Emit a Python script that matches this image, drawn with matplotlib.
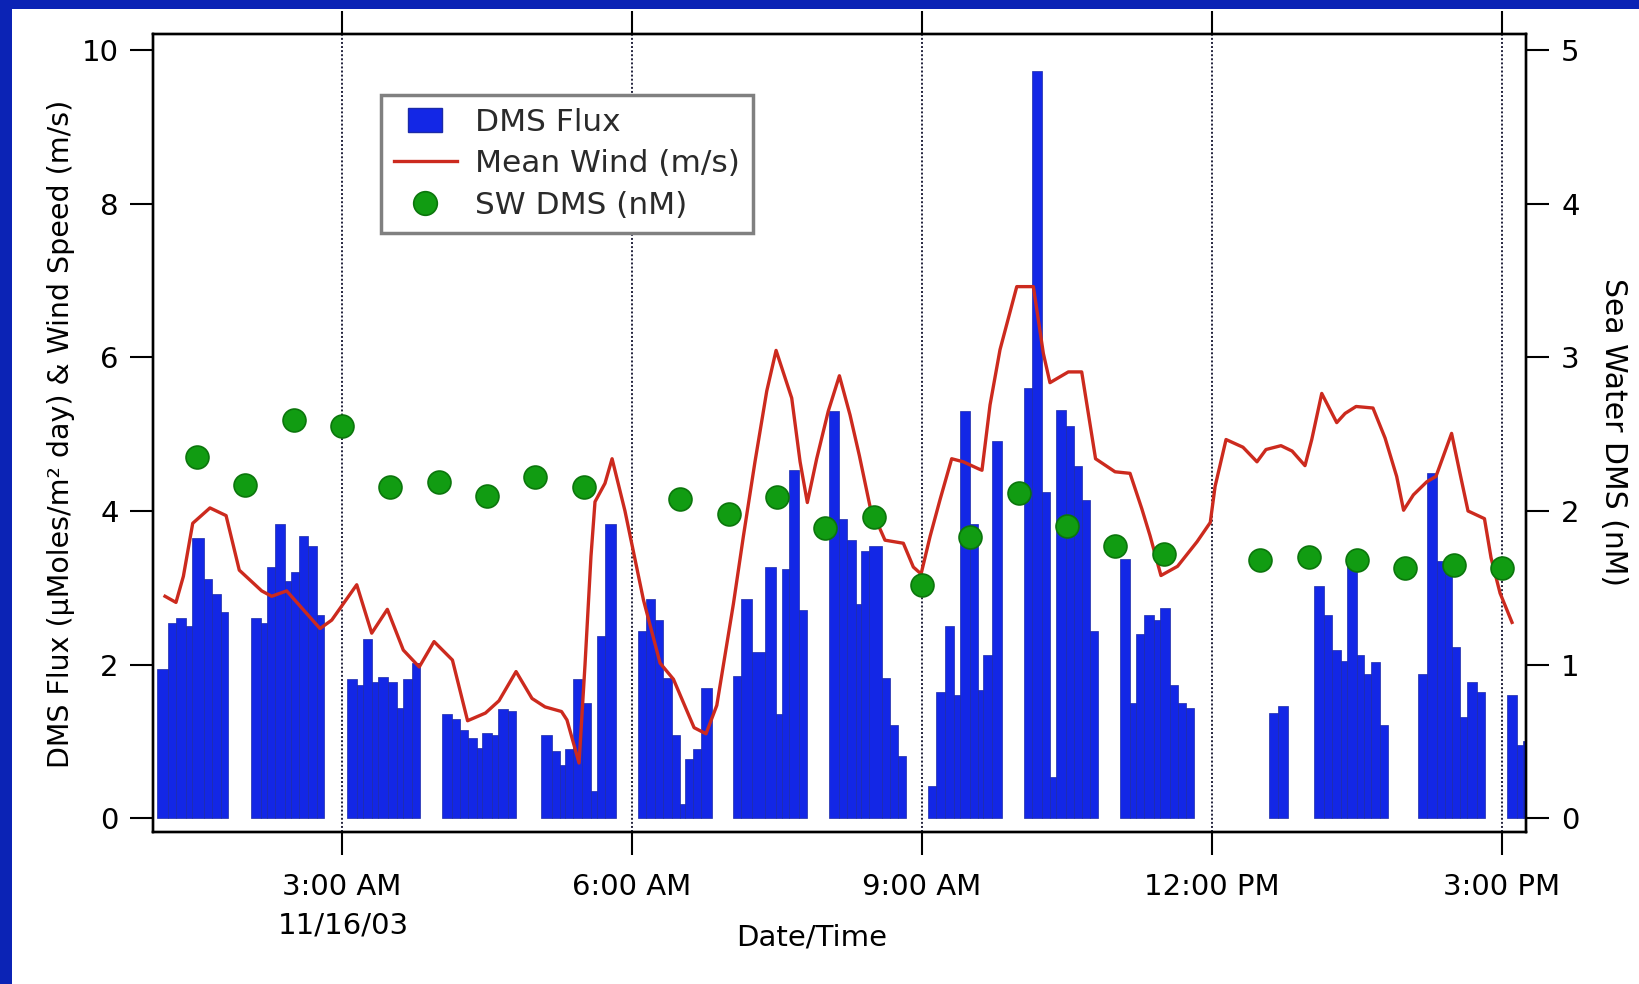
import numpy as np
import matplotlib
matplotlib.use("Agg")
import matplotlib.pyplot as plt
from matplotlib.patches import Rectangle, Patch
from matplotlib.lines import Line2D
from matplotlib.legend_handler import HandlerPatch

# ---------------- data (time = minutes after midnight, 11/16/03) ----------------
# DMS flux: bar edges (minutes) and values for each measurement block
flux_edges = [
    [65.3, 71.8, 76.9, 83.1, 86.7, 94.3, 99.5, 104.7, 109.4],
    [123.3, 129.5, 133.2, 138.4, 144.6, 148.1, 153.3, 159.0, 164.3, 168.8],
    [182.9, 189.1, 192.8, 198.4, 202.5, 208.7, 213.9, 217.6, 223.2, 228.4],
    [242.2, 248.1, 253.2, 258.4, 263.6, 267.1, 272.9, 277.0, 283.2, 288.0],
    [303.5, 310.1, 315.3, 318.4, 323.5, 329.1, 334.5, 338.1, 343.2, 349.9],
    [363.5, 368.5, 374.3, 379.4, 384.6, 389.8, 392.9, 398.0, 402.8, 409.6],
    [422.9, 427.4, 434.3, 442.5, 449.4, 452.9, 457.6, 463.8, 468.8],
    [482.4, 488.6, 493.6, 498.8, 502.3, 507.1, 515.2, 520.1, 525.3, 530.1],
    [543.5, 548.7, 554.3, 559.8, 563.6, 569.8, 574.6, 578.0, 583.2, 589.5],
    [603.3, 608.5, 614.3, 619.4, 623.0, 629.2, 634.3, 639.5, 644.3, 649.4],
    [662.9, 669.1, 672.8, 678.0, 684.0, 687.7, 693.9, 699.1, 703.9, 709.0],
    [755.1, 760.8, 766.9],
    [783.3, 789.5, 794.7, 799.9, 803.6, 809.8, 814.5, 818.5, 824.3, 829.4],
    [847.7, 853.2, 859.6, 864.3, 869.2, 874.2, 878.3, 884.2, 889.3],
    [902.9, 909.1, 913.0, 918.6],
]
flux_values = [
    [1.94, 2.54, 2.61, 2.50, 3.65, 3.12, 2.92, 2.68],
    [2.61, 2.54, 3.27, 3.83, 3.09, 3.20, 3.68, 3.55, 2.64],
    [1.81, 1.74, 2.33, 1.78, 1.84, 1.78, 1.43, 1.81, 2.02],
    [1.36, 1.29, 1.15, 1.04, 0.91, 1.11, 1.08, 1.42, 1.40],
    [1.08, 0.87, 0.70, 0.90, 1.81, 1.50, 0.36, 2.37, 3.83],
    [2.44, 2.85, 2.58, 1.83, 1.08, 0.18, 0.77, 0.90, 1.70],
    [1.85, 2.85, 2.16, 3.27, 1.36, 3.24, 4.53, 2.71],
    [5.30, 3.90, 3.62, 2.79, 3.48, 3.54, 1.82, 1.22, 0.81],
    [0.42, 1.64, 2.50, 1.61, 5.30, 3.83, 1.67, 2.12, 4.91],
    [5.60, 9.73, 4.25, 0.54, 5.32, 5.11, 4.59, 4.14, 2.44],
    [3.37, 1.50, 2.40, 2.64, 2.58, 2.74, 1.74, 1.50, 1.43],
    [1.37, 1.46],
    [3.03, 2.65, 2.19, 2.05, 3.35, 2.12, 1.88, 2.03, 1.22],
    [1.88, 4.49, 3.35, 3.33, 2.23, 1.32, 1.78, 1.64],
    [1.61, 0.95, 1.01],
]

# Mean wind speed (m/s)
wind_time = [70.1, 76.9, 81.5, 87.3, 98.0, 108.0, 116.2, 130.1, 136.3, 145.6,
             166.3, 173.6, 189.1, 198.4, 208.1, 218.0, 227.9, 237.1, 248.5, 257.9,
             269.0, 277.4, 288.0, 297.9, 306.0, 316.2, 319.6, 327.1, 330.8, 334.5,
             337.0, 343.2, 347.6, 355.6, 367.1, 377.4, 385.7, 398.5, 405.9, 412.6,
             422.9, 429.1, 436.3, 443.6, 449.4, 459.1, 464.3, 468.8, 474.6, 481.8,
             488.7, 495.3, 501.1, 507.7, 517.0, 528.4, 534.6, 539.4, 545.0, 551.2,
             558.4, 565.6, 574.9, 577.2, 582.2, 588.4, 598.8, 609.1, 615.3, 619.4,
             630.8, 639.1, 647.7, 659.8, 669.1, 676.4, 681.5, 688.3, 698.6, 710.7,
             718.9, 721.9, 728.7, 739.2, 747.9, 753.5, 762.8, 769.7, 777.7, 781.9,
             788.1, 797.4, 802.6, 809.4, 819.9, 827.4, 834.6, 838.9, 845.0, 853.3,
             859.0, 868.7, 873.6, 878.9, 889.1, 893.2, 898.8, 906.2]
wind_speed = [2.89, 2.81, 3.15, 3.84, 4.04, 3.94, 3.23, 2.96, 2.89, 2.96,
              2.47, 2.58, 3.04, 2.41, 2.72, 2.19, 1.97, 2.30, 2.06, 1.27,
              1.37, 1.53, 1.91, 1.56, 1.45, 1.39, 1.28, 0.72, 2.00, 3.41,
              4.12, 4.36, 4.68, 4.00, 2.84, 2.02, 1.81, 1.18, 1.10, 1.47,
              2.79, 3.67, 4.64, 5.56, 6.09, 5.47, 4.64, 4.11, 4.68, 5.30,
              5.76, 5.25, 4.72, 4.06, 3.62, 3.58, 3.27, 3.18, 3.67, 4.15,
              4.68, 4.64, 4.55, 4.53, 5.38, 6.10, 6.92, 6.92, 6.05, 5.67,
              5.81, 5.81, 4.68, 4.51, 4.49, 4.03, 3.68, 3.16, 3.28, 3.60,
              3.85, 4.32, 4.93, 4.83, 4.64, 4.80, 4.85, 4.78, 4.59, 4.93,
              5.53, 5.15, 5.27, 5.36, 5.34, 4.95, 4.45, 4.01, 4.21, 4.38,
              4.45, 5.01, 4.52, 4.00, 3.90, 3.39, 2.93, 2.55]

# Sea water DMS (nM)
dms_time = [90, 120, 150, 180, 210, 240, 270, 300, 330, 390, 420, 450, 480,
            510, 540, 570, 600, 630, 660, 690, 750, 780, 810, 840, 870, 900]
dms_nM = [2.35, 2.17, 2.59, 2.555, 2.155, 2.19, 2.10, 2.22, 2.155, 2.08, 1.98,
          2.09, 1.89, 1.96, 1.52, 1.83, 2.12, 1.90, 1.77, 1.72, 1.68, 1.70,
          1.68, 1.63, 1.65, 1.63]

tick_minutes = [180, 360, 540, 720, 900]
tick_labels = ["3:00 AM", "6:00 AM", "9:00 AM", "12:00 PM", "3:00 PM"]
left_ticks = [0, 2, 4, 6, 8, 10]
right_ticks = [0, 1, 2, 3, 4, 5]
legend_labels = ["DMS Flux", "Mean Wind (m/s)", "SW DMS (nM)"]

# ---------------- styling ----------------
BAR = "#1327e6"
BAR_EDGE = "#1b2aa8"
RED = "#cc2a1e"
GREEN = "#119c12"
GREEN_EDGE = "#0b760c"
FRAME_BLUE = "#0b23b5"

plt.rcParams["font.family"] = ["DejaVu Sans"]

W, H = 1640, 984
fig = plt.figure(figsize=(W / 100, H / 100), dpi=100)
fig.patch.set_facecolor("white")

# blue presentation frame (top and left strips)
fig.patches.append(Rectangle((0, 1 - 9 / H), 1, 9 / H, transform=fig.transFigure,
                             facecolor=FRAME_BLUE, edgecolor="none", zorder=0))
fig.patches.append(Rectangle((0, 0), 12 / W, 1, transform=fig.transFigure,
                             facecolor=FRAME_BLUE, edgecolor="none", zorder=0))

ax_l, ax_r, ax_t, ax_b = 152.9, 1525.7, 34.0, 832.3
ax = fig.add_axes([ax_l / W, 1 - ax_b / H, (ax_r - ax_l) / W, (ax_b - ax_t) / H])
ax.set_facecolor("white")

for e, v in zip(flux_edges, flux_values):
    e = np.asarray(e)
    ax.bar(e[:-1], v, width=np.diff(e), align="edge", color=BAR,
           edgecolor=BAR_EDGE, linewidth=0.5, zorder=2)

ax.plot(wind_time, wind_speed, color=RED, lw=2.4, zorder=3)

ax.set_xlim(62.58, 914.7)
ax.set_ylim(-0.182, 10.208)
ax.set_xticks(tick_minutes)
ax.set_xticklabels(tick_labels)
ax.set_yticks(left_ticks)

for xm in tick_minutes:
    ax.axvline(xm, color="#22223c", lw=1.4, linestyle=(0, (1.0, 1.1)), zorder=1)

ax2 = ax.twinx()
ax2.set_ylim(-0.091, 5.104)
ax2.set_yticks(right_ticks)
ax2.plot(dms_time, dms_nM, linestyle="none", marker="o", ms=16.5,
         mfc=GREEN, mec=GREEN_EDGE, mew=1.2, zorder=4)

tick_fs = 21
ax.tick_params(axis="x", direction="out", length=16.5, width=1.5, top=True,
               labeltop=False, labelsize=tick_fs, pad=13, colors="black")
ax.tick_params(axis="y", direction="out", length=16.5, width=1.5,
               labelsize=tick_fs, pad=8)
ax2.tick_params(axis="y", direction="out", length=16.5, width=1.5,
                labelsize=tick_fs, pad=9)
for a in (ax, ax2):
    for s in a.spines.values():
        s.set_linewidth(1.7)

fig.text(343 / W, 1 - 925 / H, "11/16/03", ha="center", va="center", fontsize=tick_fs)
fig.text(811.5 / W, 1 - 937 / H, "Date/Time", ha="center", va="center", fontsize=21)
fig.text(60.7 / W, 1 - 434 / H, "DMS Flux (µMoles/m² day) & Wind Speed (m/s)",
         rotation=90, ha="center", va="center", fontsize=20.5)
fig.text(1614 / W, 1 - 432 / H, "Sea Water DMS (nM)", rotation=270,
         ha="center", va="center", fontsize=21.5)


def small_rect(legend, orig_handle, xdescent, ydescent, width, height, fontsize):
    return Rectangle((-xdescent + width * 0.23, -ydescent - height * 0.05),
                     width * 0.54, height * 1.1)


handles = [Patch(facecolor=BAR, edgecolor=BAR_EDGE),
           Line2D([], [], color=RED, lw=2.4),
           Line2D([], [], linestyle="none", marker="o", ms=17, mfc=GREEN,
                  mec=GREEN_EDGE, mew=1.2)]
leg = ax2.legend(handles, legend_labels, loc="upper left",
                 bbox_to_anchor=(381 / W, 1 - 95 / H), bbox_transform=fig.transFigure,
                 borderaxespad=0, fontsize=22.5, frameon=True, fancybox=False,
                 edgecolor="#808080", framealpha=1, handlelength=2.0,
                 handletextpad=0.58, borderpad=0.42, labelspacing=0.39,
                 handler_map={Patch: HandlerPatch(patch_func=small_rect)})
leg.get_frame().set_linewidth(2.5)
for t in leg.get_texts():
    t.set_color("#2a2a2a")
leg.set_zorder(10)

fig.savefig("out.png", dpi=100, facecolor=fig.get_facecolor())
